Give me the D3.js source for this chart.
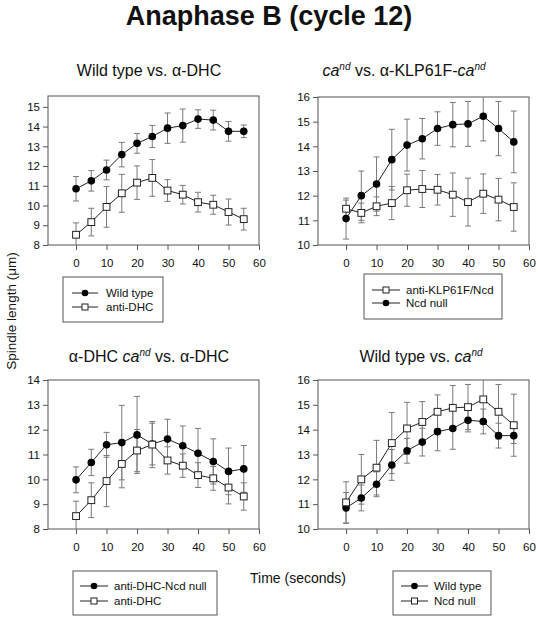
<!DOCTYPE html>
<html><head><meta charset="utf-8">
<script src="https://cdn.jsdelivr.net/npm/d3@7"></script>
<style>body{margin:0;background:#fff}svg{display:block}text{font-family:"Liberation Sans",Arial,sans-serif;fill:#111}</style>
</head><body><svg id="c" width="538" height="621"></svg>
<script>
const time = [0,5,10,15,20,25,30,35,40,45,50,55];
const xTicks = [0,10,20,30,40,50,60];
const wildType = [10.85,11.25,11.8,12.58,13.15,13.5,13.92,14.05,14.38,14.33,13.76,13.76];
const wildTypeErr = [0.62,0.52,0.5,0.62,0.5,0.56,0.77,0.84,0.47,0.5,0.5,0.32];
const antiDHC = [8.52,9.16,9.93,10.62,11.16,11.4,10.76,10.55,10.17,10.04,9.67,9.31];
const antiDHCErr = [0.6,0.7,1.03,0.96,0.85,0.93,0.55,0.47,0.5,0.48,0.66,0.55];
const ncdNull = [11.07,12.0,12.47,13.46,14.05,14.31,14.72,14.88,14.91,15.22,14.72,14.18];
const ncdNullErr = [0.83,1.0,1.1,1.23,1.05,0.82,0.68,0.9,0.91,1.0,1.1,1.25];
const antiKLP = [11.47,11.3,11.57,11.7,12.22,12.27,12.24,12.04,11.74,12.08,11.84,11.54];
const antiKLPErr = [0.35,0.4,0.38,0.67,0.65,0.75,0.62,0.88,0.97,0.8,0.86,0.98];
const antiDHCNcd = [9.98,10.68,11.39,11.48,11.79,11.42,11.62,11.35,11.05,10.72,10.32,10.42];
const antiDHCNcdErr = [0.52,0.53,0.5,1.5,1.55,0.84,0.8,0.8,1.0,0.91,0.94,0.94];
const yTicksA = [8,9,10,11,12,13,14,15];
const yTicksB = [10,11,12,13,14,15,16];
const yTicksC = [8,9,10,11,12,13,14];

const svg = d3.select("#c");
const F = '"Liberation Sans",Arial,sans-serif';

svg.append("text").attr("x",269).attr("y",25).attr("text-anchor","middle")
  .attr("font-size",27).attr("font-weight","bold").text("Anaphase B (cycle 12)");
svg.append("text").attr("transform","translate(16,311) rotate(-90)").attr("text-anchor","middle")
  .attr("font-size",13.5).text("Spindle length (μm)");
svg.append("text").attr("x",298).attr("y",583).attr("text-anchor","middle")
  .attr("font-size",14).text("Time (seconds)");

function title(x,y,parts){
  const t = svg.append("text").attr("x",x).attr("y",y).attr("text-anchor","middle").attr("font-size",16);
  parts.forEach(p=>{
    const s = t.append("tspan").text(p.t);
    if(p.i) s.attr("font-style","italic");
    if(p.sup) s.attr("font-size",10).attr("dy",-6).attr("font-style","italic");
    if(p.down) s.attr("dy",6);
  });
}
title(149,76,[{t:"Wild type vs. α-DHC"}]);
title(404,76,[{t:"ca",i:1},{t:"nd",sup:1},{t:" vs. α-KLP61F-",down:1},{t:"ca",i:1},{t:"nd",sup:1}]);
title(149,362,[{t:"α-DHC "},{t:"ca",i:1},{t:"nd",sup:1},{t:" vs. α-DHC",down:1}]);
title(421,362,[{t:"Wild type vs. "},{t:"ca",i:1},{t:"nd",sup:1}]);

let clipId = 0;
function panel(box, yDom, yTicks, series){
  const x = d3.scaleLinear().domain([-9.2,60]).range([box.l, box.r]);
  const y = d3.scaleLinear().domain(yDom).range([box.b, box.t]);
  const g = svg.append("g");
  const id = "clip"+(clipId++);
  g.append("clipPath").attr("id",id).append("rect")
    .attr("x",box.l).attr("y",box.t).attr("width",box.r-box.l).attr("height",box.b-box.t);
  const ya = g.append("g").attr("transform",`translate(${box.l},0)`)
    .call(d3.axisLeft(y).tickValues(yTicks).tickSize(5).tickPadding(3).tickFormat(d3.format("d")));
  const xa = g.append("g").attr("transform",`translate(0,${box.b})`)
    .call(d3.axisBottom(x).tickValues(xTicks).tickSize(5).tickPadding(9).tickFormat(d3.format("d")));
  [ya,xa].forEach(a=>{
    a.select(".domain").remove();
    a.selectAll("line").attr("stroke","#555");
    a.selectAll("text").attr("font-size",11.5).attr("font-family",F).attr("fill","#111");
  });
  g.append("rect").attr("x",box.l).attr("y",box.t).attr("width",box.r-box.l).attr("height",box.b-box.t)
    .attr("fill","none").attr("stroke","#555").attr("stroke-width",1);
  const pg = g.append("g").attr("clip-path",`url(#${id})`);
  series.forEach(s=>{
    const d = time.map((t,i)=>({t, v:s.v[i], e:s.e[i]}));
    const eb = pg.append("g").attr("stroke","#7a7a7a").attr("stroke-width",1);
    d.forEach(p=>{
      const cx = x(p.t), y1 = y(p.v+p.e), y2 = y(p.v-p.e);
      eb.append("line").attr("x1",cx).attr("x2",cx).attr("y1",y1).attr("y2",y2);
      eb.append("line").attr("x1",cx-3).attr("x2",cx+3).attr("y1",y1).attr("y2",y1);
      eb.append("line").attr("x1",cx-3).attr("x2",cx+3).attr("y1",y2).attr("y2",y2);
    });
  });
  series.forEach(s=>{
    const d = time.map((t,i)=>({t, v:s.v[i]}));
    pg.append("path").datum(d).attr("fill","none").attr("stroke","#222").attr("stroke-width",1)
      .attr("d",d3.line().x(p=>x(p.t)).y(p=>y(p.v)));
    if(s.filled){
      pg.selectAll(null).data(d).enter().append("circle")
        .attr("cx",p=>x(p.t)).attr("cy",p=>y(p.v)).attr("r",3.8).attr("fill","#000");
    } else {
      pg.selectAll(null).data(d).enter().append("rect")
        .attr("x",p=>x(p.t)-3.4).attr("y",p=>y(p.v)-3.4).attr("width",6.8).attr("height",6.8)
        .attr("fill","#fff").attr("stroke","#222").attr("stroke-width",1);
    }
  });
}

panel({l:48,r:259,t:96,b:245},[8,15.55],yTicksA,[
  {v:wildType,e:wildTypeErr,filled:true},{v:antiDHC,e:antiDHCErr,filled:false}]);
panel({l:318,r:529,t:97,b:245},[10,16],yTicksB,[
  {v:ncdNull,e:ncdNullErr,filled:true},{v:antiKLP,e:antiKLPErr,filled:false}]);
panel({l:48,r:259,t:380,b:529},[8,14],yTicksC,[
  {v:antiDHCNcd,e:antiDHCNcdErr,filled:true},{v:antiDHC,e:antiDHCErr,filled:false}]);
panel({l:318,r:529,t:380,b:529},[10,16],yTicksB,[
  {v:wildType,e:wildTypeErr,filled:true},{v:ncdNull,e:ncdNullErr,filled:false}]);

function legend(box, lx1, lx2, tx, ys, items){
  const g = svg.append("g");
  g.append("rect").attr("x",box.x).attr("y",box.y).attr("width",box.w).attr("height",box.h)
    .attr("fill","#fff").attr("stroke","#555").attr("stroke-width",1);
  items.forEach((it,i)=>{
    const yy = ys[i], mx = (lx1+lx2)/2;
    g.append("line").attr("x1",lx1).attr("x2",lx2).attr("y1",yy).attr("y2",yy).attr("stroke","#222");
    if(it.filled) g.append("circle").attr("cx",mx).attr("cy",yy).attr("r",3.3).attr("fill","#000");
    else g.append("rect").attr("x",mx-3).attr("y",yy-3).attr("width",6).attr("height",6)
      .attr("fill","#fff").attr("stroke","#222");
    g.append("text").attr("x",tx).attr("y",yy+4).attr("font-size",11.5).text(it.label);
  });
}
legend({x:63,y:277,w:100,h:45},72,98,106,[293,307],[{label:"Wild type",filled:true},{label:"anti-DHC",filled:false}]);
legend({x:364,y:274,w:138,h:45},372,400,406,[290,303],[{label:"anti-KLP61F/Ncd",filled:false},{label:"Ncd null",filled:true}]);
legend({x:73,y:571,w:144,h:44},80,108,114,[586,601],[{label:"anti-DHC-Ncd null",filled:true},{label:"anti-DHC",filled:false}]);
legend({x:393,y:571,w:98,h:44},401,428,434,[586,601],[{label:"Wild type",filled:true},{label:"Ncd null",filled:false}]);
</script></body></html>
